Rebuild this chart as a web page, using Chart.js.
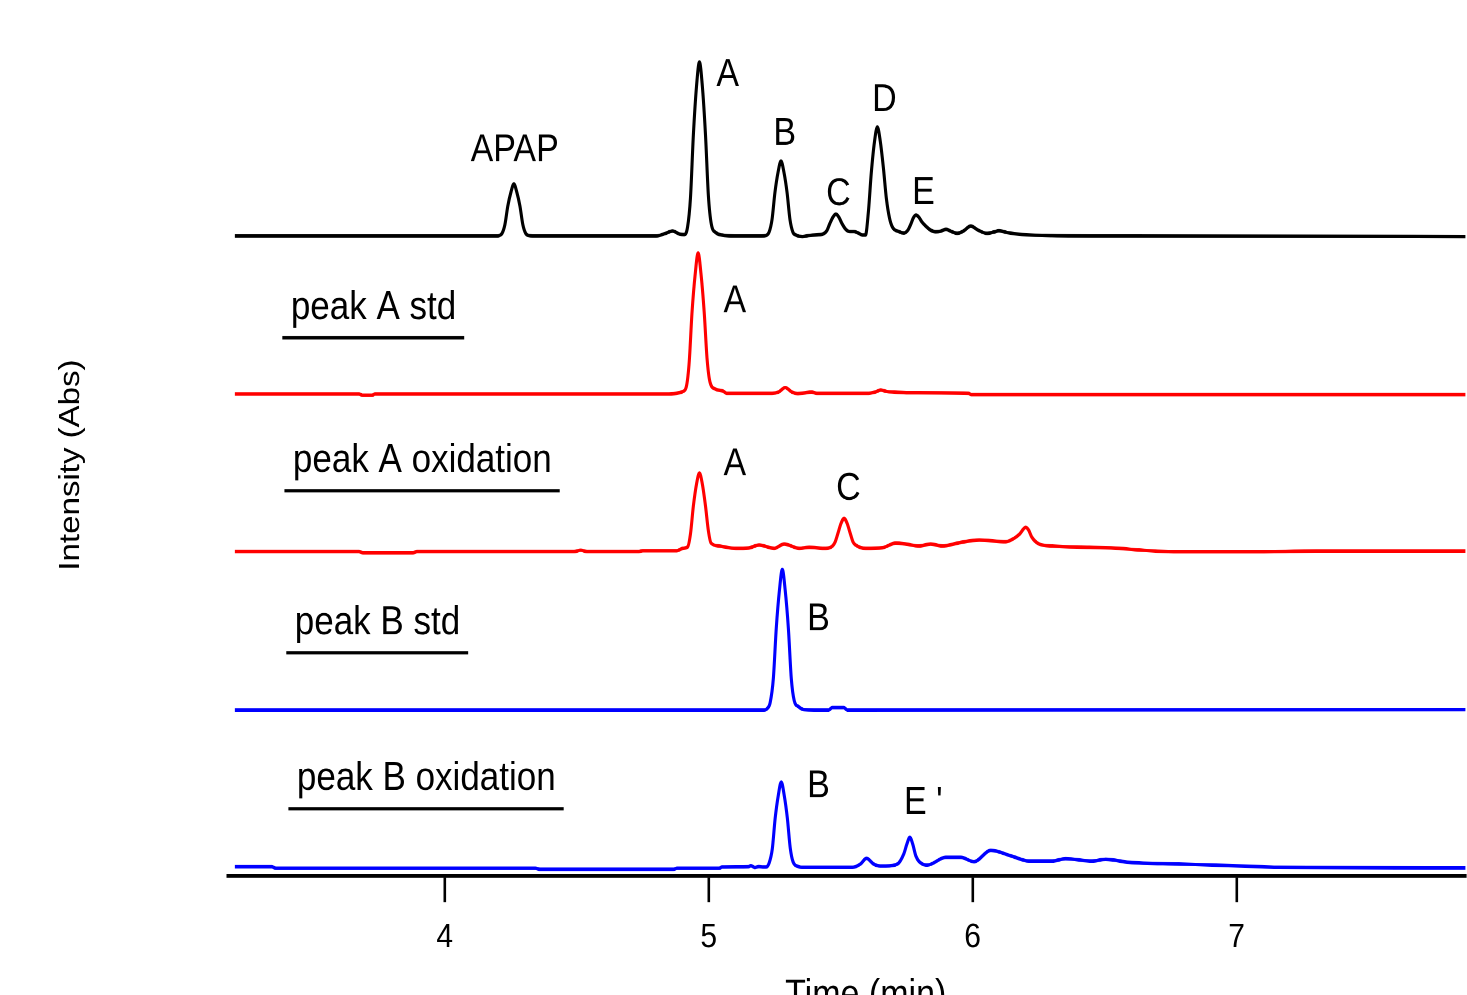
<!doctype html>
<html>

<head>
  <title>HPLC chromatograms</title>
  <script src="https://cdn.jsdelivr.net/npm/chart.js@4.4.1/dist/chart.umd.min.js"></script>
  <style>
    html, body {
      margin: 0;
      padding: 0;
      width: 1467px;
      height: 995px;
      background: #fff;
      overflow: hidden;
    }
    /* the original figure is stretched vertically, so the chart is drawn at 873px and scaled up */
    .chart {
      width: 1467px;
      height: 873px;
      transform: scaleY(1.13975);
      transform-origin: 0 0;
    }
  </style>
</head>

<body>
  <div class="chart">
    <canvas id="myChart"></canvas>
  </div>

  <script>
    // [retention time (min), absorbance above the trace's own baseline]
    var mixture = [
      [3.205, 0], [4.200, 0], [4.205, 0.3], [4.217, 2.6], [4.228, 11.4], [4.239, 30], [4.251, 44], [4.262, 52],
      [4.273, 44], [4.285, 30], [4.296, 11.4], [4.307, 2.6], [4.319, 0.5], [4.340, 0],
      [4.800, 0], [4.835, 2.5], [4.863, 5], [4.890, 2], [4.908, 1.5],
      [4.920, 9], [4.931, 38], [4.942, 101], [4.954, 150], [4.965, 174], [4.976, 150], [4.988, 101],
      [4.999, 40], [5.010, 12], [5.028, 3.3], [5.050, 1], [5.100, 0],
      [5.200, 0], [5.217, 0.5], [5.229, 4], [5.240, 16.5], [5.251, 43.5], [5.263, 64], [5.274, 75],
      [5.285, 64], [5.297, 43.5], [5.308, 16.5], [5.319, 4], [5.331, 1], [5.355, -0.5], [5.380, 0.5], [5.410, 1.2],
      [5.431, 1.8], [5.448, 5.5], [5.459, 12.5], [5.471, 19], [5.482, 22], [5.493, 19], [5.505, 12.5],
      [5.520, 6.5], [5.535, 4.5], [5.551, 4.5], [5.567, 3], [5.582, 1],
      [5.594, 1], [5.605, 24], [5.616, 63], [5.628, 94], [5.639, 109], [5.650, 95], [5.662, 68],
      [5.673, 38], [5.685, 18], [5.696, 9], [5.722, 4.3], [5.740, 3],
      [5.755, 6], [5.766, 12], [5.775, 18], [5.785, 21], [5.796, 19], [5.808, 14], [5.822, 10],
      [5.840, 6], [5.860, 4.3], [5.878, 4.8], [5.899, 6.7], [5.920, 4.5], [5.941, 2.7], [5.965, 5],
      [5.993, 10], [6.020, 6], [6.054, 2.7], [6.080, 4], [6.100, 5.3], [6.130, 3.5], [6.187, 1.5],
      [6.300, 0.5], [6.590, 0], [7.867, -0.5]
    ];

    var peakAStd = [
      [3.205, 0], [3.675, 0], [3.690, -1.3], [3.725, -1.3], [3.735, 0], [4.850, 0], [4.888, 1.3],
      [4.902, 2.5], [4.915, 7], [4.926, 31], [4.937, 82], [4.949, 120], [4.960, 141], [4.971, 120],
      [4.983, 82], [4.994, 35], [5.005, 12], [5.025, 5], [5.054, 3], [5.069, 0.7],
      [5.240, 0.7], [5.265, 2], [5.290, 6.5], [5.315, 2], [5.336, 0.5], [5.360, 1], [5.389, 2],
      [5.410, 0.7], [5.600, 0.7], [5.630, 2], [5.652, 4], [5.675, 2.5], [5.703, 2], [5.756, 1.3],
      [5.985, 0.7], [5.994, -0.5], [7.867, -0.5]
    ];

    var peakAOx = [
      [3.205, -0.5], [3.675, -0.5], [3.690, -1.8], [3.880, -1.8], [3.895, -0.5], [4.490, -0.5],
      [4.515, 0.8], [4.540, -0.5], [4.736, -0.5], [4.750, 0.3], [4.880, 0.3], [4.902, 2.7],
      [4.920, 4], [4.931, 17], [4.942, 45], [4.954, 67], [4.965, 78], [4.976, 67], [4.988, 45],
      [4.999, 20], [5.009, 8], [5.040, 5], [5.103, 2.7], [5.150, 3], [5.191, 6], [5.248, 2.7],
      [5.286, 7], [5.343, 2.7], [5.381, 3.7], [5.444, 2.7], [5.469, 5],
      [5.479, 9], [5.490, 18], [5.502, 28], [5.513, 32.7], [5.524, 28], [5.536, 18], [5.547, 9],
      [5.557, 6], [5.595, 2.7], [5.658, 3.3], [5.709, 8], [5.747, 7], [5.797, 5], [5.841, 7],
      [5.885, 5], [5.949, 8.3], [6.025, 11], [6.126, 9.3], [6.157, 12.7], [6.178, 17], [6.201, 23.7],
      [6.212, 21], [6.224, 14], [6.252, 7], [6.302, 5], [6.442, 3.7], [6.555, 2.7], [6.631, 1],
      [6.762, -0.7], [7.103, -0.7], [7.300, 0], [7.867, 0]
    ];

    var peakBStd = [
      [3.205, -0.5], [5.210, -0.5], [5.222, 1], [5.233, 7], [5.245, 31], [5.256, 81], [5.268, 119],
      [5.279, 140], [5.290, 119], [5.302, 81], [5.313, 31], [5.324, 9], [5.340, 3], [5.360, 0],
      [5.455, -0.5], [5.468, 2], [5.512, 2], [5.525, -0.5], [7.867, 0]
    ];

    var peakBOx = [
      [3.205, 1.3], [3.345, 1.3], [3.360, -0.3], [4.344, -0.3], [4.360, -1.3], [4.866, -1.3],
      [4.880, -0.3], [5.040, -0.3], [5.050, 1], [5.150, 1.3], [5.160, 2.3], [5.175, 0.5],
      [5.190, 1.5], [5.205, 1], [5.218, 1], [5.229, 5], [5.241, 19], [5.252, 50], [5.264, 73],
      [5.275, 86], [5.286, 73], [5.298, 50], [5.309, 20], [5.320, 6], [5.340, 1.5], [5.360, 0.7],
      [5.545, 0.7], [5.575, 4], [5.598, 9.7], [5.625, 4], [5.650, 2], [5.671, 2], [5.715, 4],
      [5.739, 14], [5.751, 24], [5.762, 30.7], [5.773, 24], [5.785, 12], [5.810, 4], [5.829, 3],
      [5.898, 10.7], [5.955, 10.7], [6.005, 6.3], [6.069, 17.7], [6.150, 11.7], [6.213, 7],
      [6.302, 7], [6.352, 9.3], [6.453, 7], [6.504, 8.7], [6.592, 5.7], [6.781, 4], [6.907, 3],
      [7.096, 1.3], [7.159, 0.7], [7.867, 0]
    ];

    // vertical stacking of the traces
    var offsets = { mixture: 640, peakAStd: 482, peakAOx: 325, peakBStd: 166.5, peakBOx: 8 };

    var xTicks = [4, 5, 6, 7];

    // peak names, placed at [time, stacked absorbance] of their left baseline corner
    var peakLabels = [
      { text: 'APAP', t: 4.098, v: 715 },
      { text: 'A', t: 5.029, v: 790 },
      { text: 'B', t: 5.245, v: 731 },
      { text: 'C', t: 5.445, v: 671 },
      { text: 'D', t: 5.619, v: 765 },
      { text: 'E', t: 5.771, v: 672 },
      { text: 'A', t: 5.056, v: 564 },
      { text: 'A', t: 5.056, v: 401 },
      { text: 'C', t: 5.483, v: 376 },
      { text: 'B', t: 5.373, v: 246 },
      { text: 'B', t: 5.373, v: 79 },
      { text: 'E \'', t: 5.740, v: 62 }
    ];

    var sampleLabels = [
      { text: 'peak A std', t: 3.417, v: 557 },
      { text: 'peak A oxidation', t: 3.425, v: 404 },
      { text: 'peak B std', t: 3.432, v: 242 },
      { text: 'peak B oxidation', t: 3.440, v: 86 }
    ];

    var fontFamily = 'Arial, "Liberation Sans", sans-serif';

    function stack(points, offset) {
      return points.map(function(p) {
        return { x: p[0], y: p[1] + offset };
      });
    }

    function trace(data, offset, color) {
      return {
        data: stack(data, offset),
        borderColor: color,
        borderWidth: 3.1,
        pointRadius: 0,
        fill: false,
        cubicInterpolationMode: 'monotone'
      };
    }

    var labelPlugin = {
      id: 'peakLabels',
      afterDraw: function(chart) {
        var ctx = chart.ctx;
        var xs = chart.scales.x;
        var ys = chart.scales.y;
        ctx.save();
        ctx.fillStyle = '#000';
        ctx.textAlign = 'left';
        ctx.textBaseline = 'alphabetic';

        ctx.font = '34px ' + fontFamily;
        peakLabels.forEach(function(l) {
          ctx.fillText(l.text, xs.getPixelForValue(l.t), ys.getPixelForValue(l.v));
        });

        ctx.font = '35px ' + fontFamily;
        sampleLabels.forEach(function(l) {
          var px = xs.getPixelForValue(l.t);
          var py = ys.getPixelForValue(l.v);
          var w = ctx.measureText(l.text).width;
          ctx.fillText(l.text, px, py);
          ctx.fillRect(px - 8.5, py + 15, w + 16.5, 2.9);
        });

        // x axis title, sits partly below the bottom edge as in the original
        ctx.font = '34px ' + fontFamily;
        ctx.textAlign = 'center';
        ctx.textBaseline = 'middle';
        ctx.fillText('Time (min)', xs.getPixelForValue(5.595), xs.bottom + 0.4);
        ctx.restore();
      }
    };

    var config = {
      type: 'line',
      data: {
        datasets: [
          trace(mixture, offsets.mixture, '#000000'),
          trace(peakAStd, offsets.peakAStd, '#ff0000'),
          trace(peakAOx, offsets.peakAOx, '#ff0000'),
          trace(peakBStd, offsets.peakBStd, '#0000ff'),
          trace(peakBOx, offsets.peakBOx, '#0000ff')
        ]
      },
      options: {
        responsive: true,
        maintainAspectRatio: false,
        devicePixelRatio: 2,
        animation: false,
        layout: {
          padding: { top: 47.4, right: -1.5, bottom: 0, left: 0 }
        },
        scales: {
          x: {
            type: 'linear',
            min: 3.179,
            max: 7.867,
            afterBuildTicks: function(scale) {
              scale.ticks = xTicks.map(function(v) { return { value: v }; });
            },
            afterFit: function(scale) {
              scale.height = 104.4;
            },
            border: { display: true, width: 3.1, color: '#000' },
            grid: {
              display: true,
              drawOnChartArea: false,
              drawTicks: true,
              tickLength: 23,
              lineWidth: 2.6,
              tickWidth: 2.6,
              tickColor: '#000'
            },
            ticks: {
              color: '#000',
              padding: 13.1,
              maxRotation: 0,
              autoSkip: false,
              font: { size: 30, family: fontFamily }
            }
          },
          y: {
            min: 0,
            max: 822,
            afterFit: function(scale) {
              scale.width = 228;
            },
            border: { display: false },
            grid: { display: false },
            ticks: { display: false },
            title: {
              display: true,
              text: 'Intensity (Abs)',
              color: '#000',
              padding: { top: 53.6, bottom: 0 },
              font: { size: 29, family: fontFamily }
            }
          }
        },
        plugins: {
          legend: { display: false },
          tooltip: { enabled: false }
        }
      },
      plugins: [labelPlugin]
    };

    window.onload = function() {
      var ctx = document.getElementById('myChart').getContext('2d');
      window.myChart = new Chart(ctx, config);
    };
  </script>
</body>

</html>
